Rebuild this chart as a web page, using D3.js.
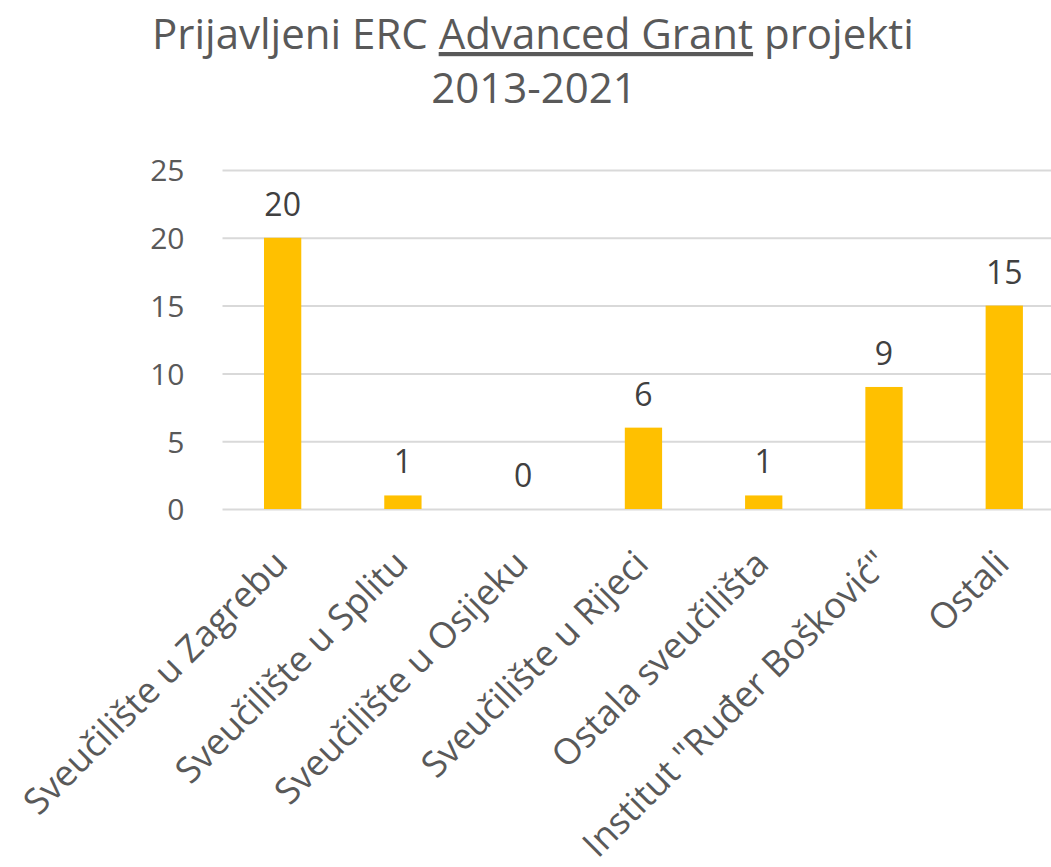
<!DOCTYPE html>
<html lang="hr">
<head>
  <meta charset="UTF-8">
  <title>ERC Advanced Grant</title>
  <script src="https://cdn.jsdelivr.net/npm/d3@7"></script>
  <style>
    body { margin: 0; background: #fff; }
    text { font-family: "Open Sans", sans-serif; }
    .title { fill: #595959; font-size: 42px; }
    .tick text { fill: #595959; font-size: 30px; }
    .cat { fill: #595959; font-size: 36px; }
    .val { fill: #404040; font-size: 32px; text-anchor: middle; }
  </style>
</head>
<body>
  <svg width="1051" height="867"></svg>
  <script>
    const categories = ['Sveučilište u Zagrebu', 'Sveučilište u Splitu', 'Sveučilište u Osijeku',
      'Sveučilište u Rijeci', 'Ostala sveučilišta', 'Institut "Ruđer Bošković"', 'Ostali'];
    const values = [20, 1, 0, 6, 1, 9, 15];
    const yTicks = [0, 5, 10, 15, 20, 25];

    const svg = d3.select('svg');

    const x = d3.scaleBand()
      .domain(categories)
      .range([222.5, 1064.4])
      .paddingInner(0.69)
      .paddingOuter(0.345);

    const y = d3.scaleLinear()
      .domain([0, 25])
      .range([509, 170]);

    // title
    const title = svg.append('text')
      .attr('class', 'title')
      .attr('text-anchor', 'middle');
    const l1 = title.append('tspan').attr('x', 533).attr('y', 49);
    l1.append('tspan').text('Prijavljeni ERC ');
    l1.append('tspan').attr('text-decoration', 'underline').text('Advanced Grant');
    l1.append('tspan').text(' projekti');
    title.append('tspan').attr('x', 534).attr('y', 103).text('2013-2021');

    // gridlines + y labels
    const yAxis = svg.append('g')
      .attr('transform', 'translate(222.5,0)')
      .call(d3.axisLeft(y).tickValues(yTicks).tickSize(-(1051 - 222.5)).tickPadding(38));
    yAxis.select('.domain').remove();
    yAxis.selectAll('.tick line').attr('stroke', '#d9d9d9').attr('stroke-width', 2);
    yAxis.selectAll('.tick text').attr('dy', '0.36em');

    svg.selectAll('.bar')
      .data(values)
      .enter()
      .append('rect')
      .attr('class', 'bar')
      .attr('x', (d, i) => x(categories[i]))
      .attr('y', d => y(d))
      .attr('width', x.bandwidth())
      .attr('height', d => y(0) - y(d))
      .attr('fill', '#ffc000');

    svg.selectAll('.val')
      .data(values)
      .enter()
      .append('text')
      .attr('class', 'val')
      .attr('x', (d, i) => x(categories[i]) + x.bandwidth() / 2)
      .attr('y', d => y(d) - 22)
      .text(d => d);

    svg.selectAll('.cat')
      .data(categories)
      .enter()
      .append('text')
      .attr('class', 'cat')
      .attr('text-anchor', 'end')
      .attr('transform', d => `translate(${x(d) + x.bandwidth() / 2 + 7},${y(0) + 57}) rotate(-45)`)
      .text(d => d);
  </script>
</body>
</html>
